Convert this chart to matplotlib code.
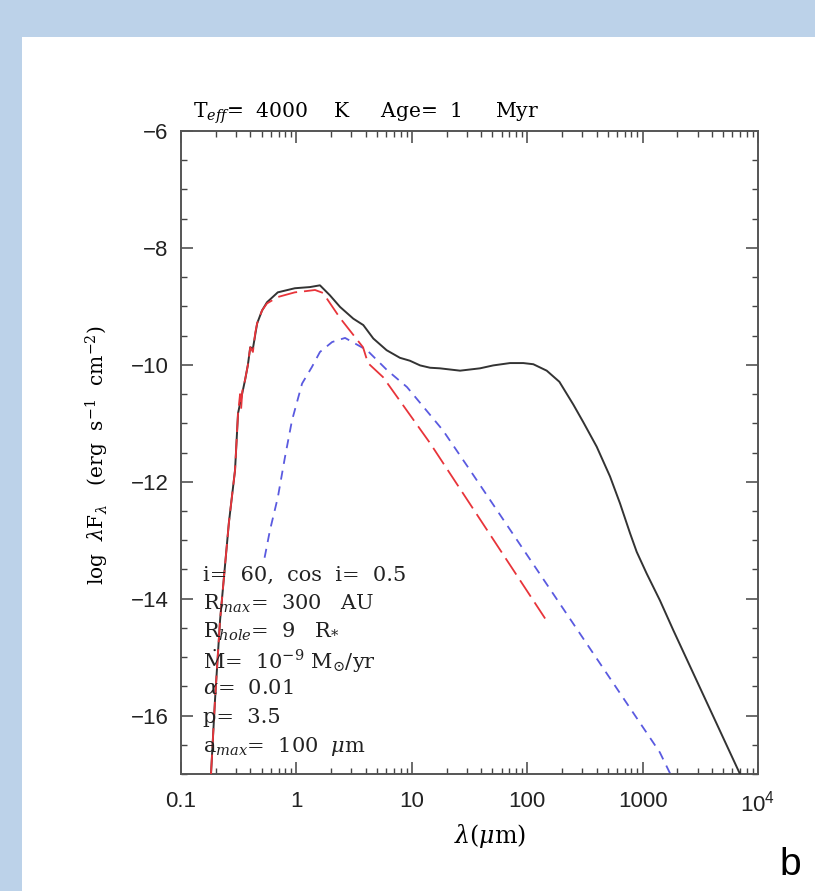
import matplotlib
matplotlib.use("Agg")
import matplotlib.pyplot as plt
from matplotlib.patches import Rectangle
from matplotlib.ticker import FixedLocator, FixedFormatter, MultipleLocator, LogLocator, NullFormatter

plt.rcParams['mathtext.fontset'] = 'dejavuserif'
plt.rcParams['lines.scale_dashes'] = False

# total SED (solid black)
black_x = [0.182, 0.197, 0.218, 0.26, 0.294, 0.312, 0.33, 0.359, 0.38, 0.398, 0.42, 0.457,
           0.504, 0.556, 0.69, 0.97, 1.31, 1.6, 1.95, 2.39, 3.11, 3.8, 4.64, 6.05, 7.89, 9.63,
           11.8, 14.4, 17.5, 26.2, 39, 50.8, 71, 92.5, 113, 147.6, 190, 251, 306, 400, 522,
           637, 778, 889, 1084, 1413, 1845, 6980]
black_y = [-17.0, -15.74, -14.37, -12.7, -11.8, -10.83, -10.6, -10.26, -10.0, -9.70, -9.72, -9.29,
           -9.07, -8.93, -8.76, -8.69, -8.67, -8.64, -8.81, -9.01, -9.21, -9.32, -9.55, -9.75, -9.88, -9.93,
           -10.01, -10.05, -10.06, -10.10, -10.06, -10.01, -9.97, -9.97, -9.99, -10.1, -10.29, -10.68, -10.98,
           -11.40, -11.91, -12.37, -12.88, -13.20, -13.57, -14.03, -14.54, -17.0]

# stellar photosphere (red long dashes)
red_x = [0.182, 0.197, 0.218, 0.26, 0.294, 0.312, 0.325, 0.332, 0.34, 0.359, 0.38, 0.398, 0.42,
         0.44, 0.457, 0.504, 0.556, 0.69, 0.97, 1.2, 1.45, 1.7, 2.39, 3.78, 4.17, 5.63, 14.4, 143]
red_y = [-17.0, -15.74, -14.37, -12.7, -11.8, -10.83, -10.5, -10.75, -10.45, -10.26, -10.0, -9.70, -9.78,
         -9.45, -9.29, -9.07, -8.95, -8.84, -8.76, -8.74, -8.72, -8.77, -9.20, -9.70, -9.97, -10.21, -11.34, -14.34]

# disk emission (blue short dashes)
blue_x = [0.53, 0.59, 0.69, 0.796, 0.916, 1.12, 1.36, 1.6, 2.04, 2.64, 4.09, 6.1, 9.08, 18.6, 31.9, 1410, 1740]
blue_y = [-13.3, -12.83, -12.27, -11.58, -10.95, -10.32, -10.04, -9.78, -9.61, -9.54, -9.75, -10.09, -10.38,
          -11.12, -11.80, -16.63, -17.0]

xtick_vals = [0.1, 1, 10, 100, 1000, 10000]
xtick_labels = ['0.1', '1', '10', '100', '1000', r'10$^{\mathregular{4}}$']
ytick_vals = [-6, -8, -10, -12, -14, -16]

params = [r'i=  60,  cos  i=  0.5',
          r'R$_{max}$=  300   AU',
          r'R$_{hole}$=  9   R$_{*}$',
          r'Ṁ=  10$^{-9}$ M$_{\odot}$/yr',
          r'$\alpha$=  0.01',
          r'p=  3.5',
          r'a$_{max}$=  100  $\mu$m']

W, H = 815, 891
fig = plt.figure(figsize=(W / 100, H / 100), dpi=100)
fig.patch.set_facecolor('#bcd2e9')
fig.patches.append(Rectangle((22 / W, 0), 1, (H - 37) / H, transform=fig.transFigure,
                             facecolor='white', edgecolor='none', zorder=-5))

ax = fig.add_axes([181 / W, 1 - 774 / H, (758 - 181) / W, (774 - 131) / H])
ax.set_facecolor('white')

ax.plot(black_x, black_y, color='#333333', lw=1.4, zorder=3)
ax.plot(red_x, red_y, color='#e8343a', lw=1.3, dashes=[14, 5], zorder=4)
ax.plot(blue_x, blue_y, color='#5a5ae0', lw=1.3, dashes=[6.5, 5], zorder=2)

ax.set_xscale('log')
ax.set_xlim(0.1, 1e4)
ax.set_ylim(-17, -6)

ax.xaxis.set_major_locator(FixedLocator(xtick_vals))
ax.xaxis.set_major_formatter(FixedFormatter(xtick_labels))
ax.xaxis.set_minor_locator(LogLocator(base=10, subs=range(2, 10)))
ax.xaxis.set_minor_formatter(NullFormatter())
ax.yaxis.set_major_locator(FixedLocator(ytick_vals))
ax.yaxis.set_minor_locator(MultipleLocator(0.5))

ax.tick_params(which='both', direction='in', top=True, right=True, colors='#444444',
               labelcolor='#222222')
ax.tick_params(which='major', length=8.5, width=1.1, labelsize=16, pad=9)
ax.tick_params(axis='x', which='major', pad=12)
ax.tick_params(which='minor', length=4.3, width=1.0)
for lab in ax.get_xticklabels() + ax.get_yticklabels():
    lab.set_family('Liberation Sans')
for sp in ax.spines.values():
    sp.set_color('#555555')
    sp.set_linewidth(1.4)

ax.set_xlabel(r'$\lambda(\mu$m)', fontsize=17, family='DejaVu Serif')
ax.xaxis.set_label_coords((490 - 181) / 577, -0.075)
ax.set_ylabel(r'log  $\lambda$F$_{\lambda}$   (erg  s$^{-1}$  cm$^{-2}$)', fontsize=14.5,
              family='DejaVu Serif')
ax.yaxis.set_label_coords((111 - 181) / 577, (774 - 455) / 643)

fig.text(193 / W, 1 - 118 / H, r'T$_{eff}$=  4000    K     Age=  1     Myr', fontsize=14.6,
         family='DejaVu Serif', va='baseline', ha='left')

for k, s in enumerate(params):
    fig.text(203 / W, 1 - (575 + 28.5 * k) / H, s, fontsize=15, family='DejaVu Serif',
             va='center', ha='left', color='#222222', zorder=10)

fig.text(790 / W, 1 - 865 / H, 'b', fontsize=28, family='Liberation Sans', va='center', ha='center')

fig.savefig('out.png', dpi=100, facecolor=fig.get_facecolor())
